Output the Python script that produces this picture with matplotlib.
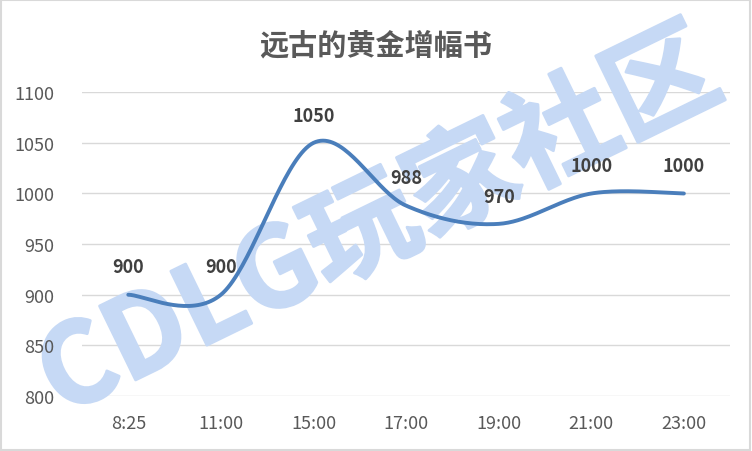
import numpy as np
import matplotlib.pyplot as plt
import matplotlib.patheffects as pe
from matplotlib.patches import Rectangle

plt.rcParams['font.family'] = ['Noto Sans CJK SC', 'DejaVu Sans']

# данные
times = ['8:25', '11:00', '15:00', '17:00', '19:00', '21:00', '23:00']
values = [900, 900, 1050, 988, 970, 1000, 1000]
y_ticks = [800, 850, 900, 950, 1000, 1050, 1100]
title = '远古的黄金增幅书'
watermark = 'CDLG玩家社区'


def smooth(xs, ys, n=40):
    # сглаживание как в Excel: Catmull-Rom -> Безье
    xs, ys = np.asarray(xs, float), np.asarray(ys, float)
    px = np.concatenate([[xs[0]], xs, [xs[-1]]])
    py = np.concatenate([[ys[0]], ys, [ys[-1]]])
    outx, outy = [], []
    t = np.linspace(0, 1, n)
    for i in range(1, len(px) - 2):
        x0, y0 = px[i], py[i]
        x3, y3 = px[i + 1], py[i + 1]
        x1, y1 = x0 + (px[i + 1] - px[i - 1]) / 6, y0 + (py[i + 1] - py[i - 1]) / 6
        x2, y2 = x3 - (px[i + 2] - px[i]) / 6, y3 - (py[i + 2] - py[i]) / 6
        bx = (1-t)**3*x0 + 3*(1-t)**2*t*x1 + 3*(1-t)*t**2*x2 + t**3*x3
        by = (1-t)**3*y0 + 3*(1-t)**2*t*y1 + 3*(1-t)*t**2*y2 + t**3*y3
        outx.extend(bx)
        outy.extend(by)
    return outx, outy


fig = plt.figure(figsize=(7.52, 4.52), dpi=100)
ax = fig.add_axes([0.109, 0.1217, 0.862, 0.672])

# сетка вручную, чтобы водяной знак лёг поверх неё
for yv in y_ticks:
    ax.axhline(yv, color='#d9d9d9', lw=1, zorder=0.5)

# водяной знак: над сеткой, под линией и подписями
ax.text(0.505, 0.50, watermark, transform=fig.transFigure, fontsize=80,
        fontweight='bold', style='italic', color='#c6d9f5', rotation=26,
        ha='center', va='center', zorder=1, clip_on=False,
        path_effects=[pe.withStroke(linewidth=2, foreground='#c6d9f5')])

x = np.arange(len(times))
sx, sy = smooth(x, values)
ax.plot(sx, sy, color='#4a7ebb', lw=2.8, solid_capstyle='round', zorder=3)

for xi, v in zip(x, values):
    ax.annotate(str(v), (xi, v), xytext=(0, 20), textcoords='offset points',
                ha='center', va='center', fontsize=13, fontweight='bold',
                color='#404040', zorder=4)

ax.set_xlim(-0.5, len(times) - 0.5)
ax.set_ylim(800, 1100)
ax.set_yticks(y_ticks)
ax.set_xticks(x)
ax.set_xticklabels(times)
for s in ['top', 'right', 'left', 'bottom']:
    ax.spines[s].set_visible(False)
ax.tick_params(length=0, labelsize=13, labelcolor='#595959')
ax.tick_params(axis='x', pad=13)
ax.tick_params(axis='y', pad=20)

fig.text(0.5, 0.9, title, ha='center', va='center', fontsize=21,
         fontweight='bold', color='#595959')

fig.patches.append(Rectangle((0.001, 0.002), 0.997, 0.995, transform=fig.transFigure,
                             fill=False, edgecolor='#d9d9d9', lw=1.5))

fig.savefig('out.png', dpi=100)
